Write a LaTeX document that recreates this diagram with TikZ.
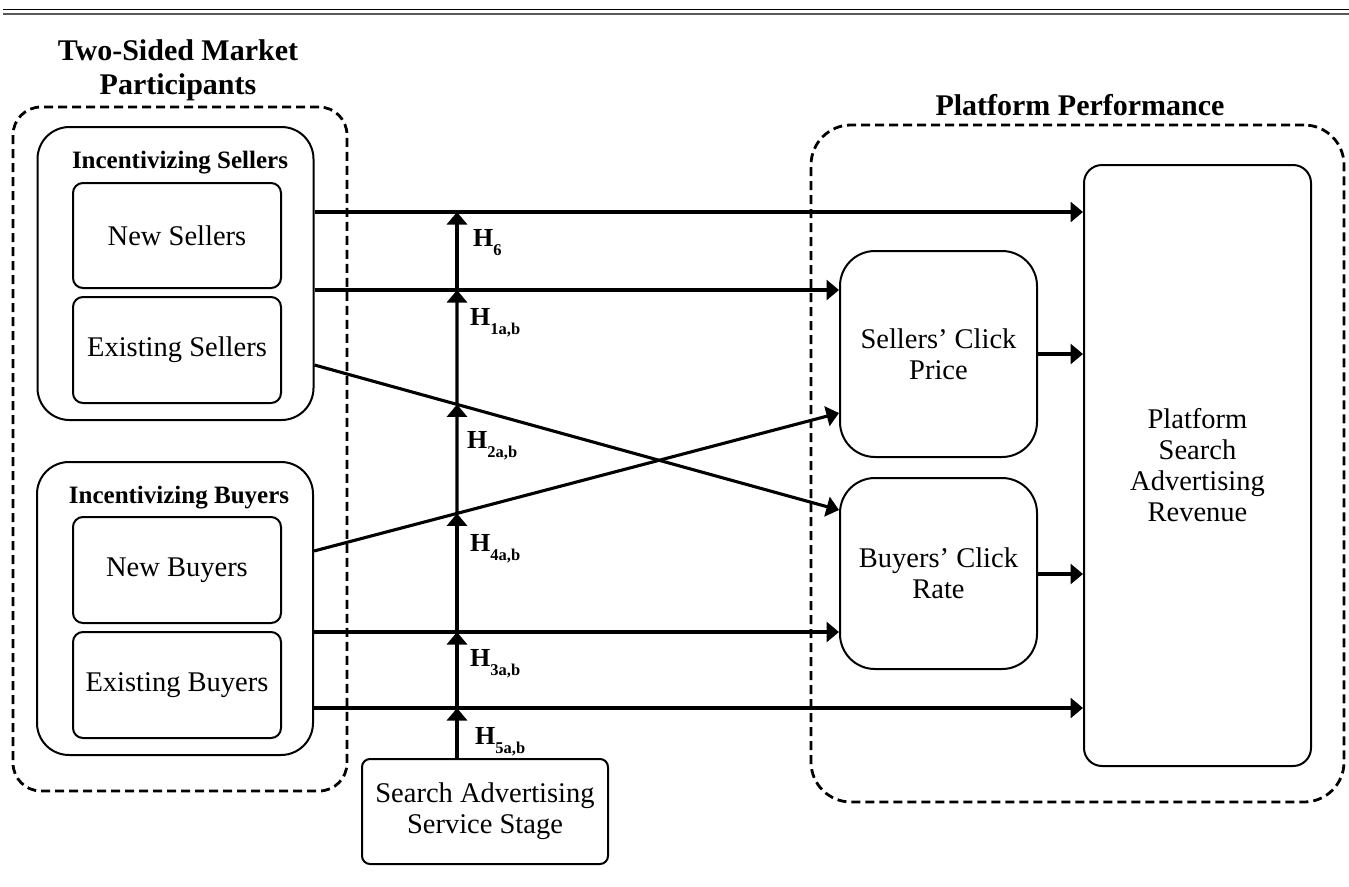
\documentclass[tikz,border=0pt]{standalone}
\usepackage{fontspec}
\setmainfont{Liberation Serif}
\usetikzlibrary{arrows.meta,calc}
\begin{document}
\begin{tikzpicture}[x=1pt,y=-1pt,
  box/.style={draw,line width=2pt,rectangle,align=center,inner sep=0pt,font=\fontsize{28.5}{31}\selectfont},
  grp/.style={draw,line width=2pt,rectangle,rounded corners=32pt,inner sep=0pt,minimum width=276pt,minimum height=293pt},
  dbox/.style={draw,line width=2.8pt,dash pattern=on 9pt off 5pt,rectangle,inner sep=0pt},
  conn/.style={line width=3.1pt,-{Triangle[length=12.5pt,width=20pt]}},
  ttl/.style={font=\fontsize{30}{34}\selectfont\bfseries,align=center,inner sep=0pt},
  sub/.style={font=\fontsize{25}{27}\selectfont\bfseries,inner sep=0pt},
  hyp/.style={anchor=base west,inner sep=0pt,font=\fontsize{26}{26}\selectfont\bfseries}]
\newcommand{\hsub}[1]{H\raisebox{-9pt}{\fontsize{16.5}{16.5}\selectfont\bfseries #1}}
\useasboundingbox (0,0) rectangle (1349,886);
% top rules
\coordinate (tl1) at (3,9.5); \coordinate (tr1) at (1349,9.5);
\coordinate (tl2) at (3,13.8); \coordinate (tr2) at (1349,13.8);
\draw[line width=1.6pt] (tl1) -- (tr1);
\draw[line width=1.6pt,black!65] (tl2) -- (tr2);
% dashed containers
\node[dbox,rounded corners=28pt,minimum width=334pt,minimum height=684pt] (ldash) at (180,449) {};
\node[dbox,rounded corners=40pt,minimum width=533pt,minimum height=677pt] (rdash) at (1077.5,463.5) {};
\node[ttl] (ltitle) at (178,70) {Two-Sided Market\\Participants};
\node[ttl] (rtitle) at (1080,105) {Platform Performance};
% groups
\node[grp] (sellers) at (175.5,273.5) {};
\node[grp] (buyers) at (175,608.5) {};
\node[sub] (stitle) at (180,163) {Incentivizing Sellers};
\node[sub] (btitle) at (179,498) {Incentivizing Buyers};
\node[box,rounded corners=10pt,minimum width=208pt,minimum height=105pt] (ns) at (177,235.5) {New Sellers};
\node[box,rounded corners=10pt,minimum width=208pt,minimum height=106pt] (es) at (177,350) {Existing Sellers};
\node[box,rounded corners=10pt,minimum width=208pt,minimum height=106pt] (nb) at (177,570) {New Buyers};
\node[box,rounded corners=10pt,minimum width=208pt,minimum height=106pt] (eb) at (177,685) {Existing Buyers};
% right boxes
\node[box,rounded corners=35pt,minimum width=197pt,minimum height=206pt] (scp) at (938.5,354) {Sellers’ Click\\Price};
\node[box,rounded corners=35pt,minimum width=197pt,minimum height=191pt] (bcr) at (938.5,573.5) {Buyers’ Click\\Rate};
\node[box,rounded corners=18pt,minimum width=227pt,minimum height=601pt] (rev) at (1197.5,465.5) {Platform\\Search\\Advertising\\Revenue};
\node[box,rounded corners=8pt,minimum width=246pt,minimum height=105pt] (sas) at (485,811.5) {Search Advertising\\Service Stage};
% reference coordinates
\coordinate (y6) at (457,212);
\coordinate (y1) at (457,290);
\coordinate (yes) at (457,365);
\coordinate (yesb) at (457,510);
\coordinate (ynb) at (457,551);
\coordinate (ynbs) at (457,413);
\coordinate (y3) at (457,632);
\coordinate (y5) at (457,708);
\coordinate (ybcr) at (457,574);
% horizontal connectors
\draw[conn] (sellers.east |- y6) -- (rev.west |- y6);
\draw[conn] (sellers.east |- y1) -- (scp.west |- y1);
\draw[conn] (sellers.east |- yes) coordinate (esa) -- (bcr.west |- yesb) coordinate (esb);
\draw[conn] (buyers.east |- ynb) coordinate (nba) -- (scp.west |- ynbs) coordinate (nbb);
\draw[conn] (buyers.east |- y3) -- (bcr.west |- y3);
\draw[conn] (buyers.east |- y5) -- (rev.west |- y5);
\draw[conn] (scp.east) -- (scp.east -| rev.west);
\draw[conn] (bcr.east |- ybcr) -- (rev.west |- ybcr);
% moderating vertical
\coordinate (v2) at (intersection of esa--esb and y6--y5);
\coordinate (v4) at (intersection of nba--nbb and y6--y5);
\draw[conn] (y5 |- sas.north) -- (y5);
\draw[conn] (y5) -- (y3);
\draw[conn] (y3) -- (v4);
\draw[conn] (v4) -- (v2);
\draw[conn] (v2) -- (y1);
\draw[conn] (y1) -- (y6);
% hypothesis labels
\node[hyp] (h6) at (473,246) {\hsub{6}};
\node[hyp] (h1) at (470,325) {\hsub{1a,b}};
\node[hyp] (h2) at (467,448) {\hsub{2a,b}};
\node[hyp] (h4) at (470,551) {\hsub{4a,b}};
\node[hyp] (h3) at (470,666) {\hsub{3a,b}};
\node[hyp] (h5) at (475,744) {\hsub{5a,b}};
\end{tikzpicture}
\end{document}
